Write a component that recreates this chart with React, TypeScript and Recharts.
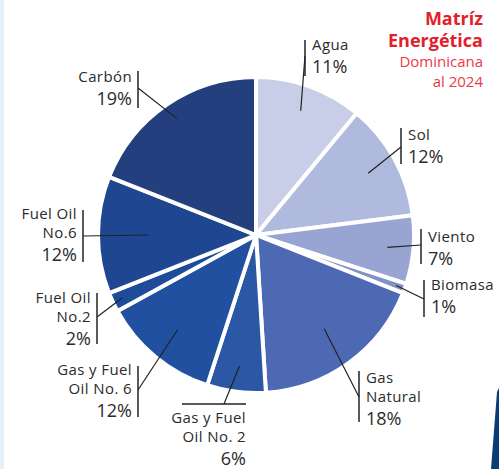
import { PieChart, Pie, Cell } from 'recharts';

// source values, clockwise from 12 o'clock
const sources = ['Agua', 'Sol', 'Viento', 'Biomasa', 'Gas Natural', 'Gas y Fuel Oil No. 2', 'Gas y Fuel Oil No. 6', 'Fuel Oil No.2', 'Fuel Oil No.6', 'Carbón'];
const shares = [11, 12, 7, 1, 18, 6, 12, 2, 12, 19];
const labelLines = [
    ['Agua'],
    ['Sol'],
    ['Viento'],
    ['Biomasa'],
    ['Gas', 'Natural'],
    ['Gas y Fuel', 'Oil No. 2'],
    ['Gas y Fuel', 'Oil No. 6'],
    ['Fuel Oil', 'No.2'],
    ['Fuel Oil', 'No.6'],
    ['Carbón'],
];
const colors = ['#C8CEE8', '#B0B9DE', '#98A4D2', '#8091C8', '#4E69B3', '#2C57A5', '#2150A0', '#1E4B9A', '#1F4690', '#233F7E'];

const data = sources.map((name, i) => ({ name, value: shares[i] }));

// label layout: leader start radius, bar position (vertical unless horiz), text side
const layout = [
    { r: 132, bx: 305, by1: 40, by2: 76, ey: 56, side: 'right', ty: 50 },
    { r: 128, bx: 401, by1: 128, by2: 164, ey: 147, side: 'right', ty: 140 },
    { r: 132, bx: 421, by1: 229, by2: 264, ey: 245, side: 'right', ty: 242 },
    { r: 149, bx: 424, by1: 280, by2: 317, ey: 299, side: 'right', ty: 290 },
    { r: 116, bx: 359, by1: 371, by2: 422, ey: 397, side: 'right', ty: 383 },
    { r: 132, bx: 224, by1: 404, by2: 404, ey: 404, side: 'below', ty: 423, hx1: 182, hx2: 246 },
    { r: 123, bx: 138, by1: 366, by2: 417, ey: 390, side: 'left', ty: 375 },
    { r: 148, bx: 97, by1: 293, by2: 344, ey: 317, side: 'left', ty: 303 },
    { r: 108, bx: 83, by1: 210, by2: 262, ey: 236, side: 'left', ty: 219 },
    { r: 141, bx: 138, by1: 71, by2: 108, ey: 88, side: 'left', ty: 82 },
];

const RAD = Math.PI / 180;
const FONT = '"Open Sans", Inter, sans-serif';

function renderLabel(props: any) {
    const { cx, cy, midAngle, index } = props;
    const l = layout[index];
    const sx = cx + Math.cos(-midAngle * RAD) * l.r;
    const sy = cy + Math.sin(-midAngle * RAD) * l.r;
    const lines = labelLines[index];
    let tx = l.bx + 7;
    let anchor = 'start';
    if (l.side === 'left') {
        tx = l.bx - 6;
        anchor = 'end';
    }
    if (l.side === 'below') {
        tx = l.hx2;
        anchor = 'end';
    }
    return (
        <g key={'lbl' + index}>
            <line x1={sx} y1={sy} x2={l.bx} y2={l.ey} stroke="#222" strokeWidth={1.2} />
            {l.side === 'below' ? (
                <line x1={l.hx1} y1={l.by1} x2={l.hx2} y2={l.by1} stroke="#222" strokeWidth={1.5} />
            ) : (
                <line x1={l.bx} y1={l.by1} x2={l.bx} y2={l.by2} stroke="#222" strokeWidth={1.5} />
            )}
            <text textAnchor={anchor} fontFamily={FONT} fill="#2b2b2b">
                {lines.map((t, j) => (
                    <tspan key={j} x={tx} y={l.ty + j * 19} fontSize={15} letterSpacing={0.4}>{t}</tspan>
                ))}
                <tspan x={tx} y={l.ty + (lines.length - 1) * 19 + 23} fontSize={18}>{shares[index]}%</tspan>
            </text>
        </g>
    );
}

export default function App() {
    return (
        <div style={{ position: 'absolute', left: 0, top: 0, width: 499, height: 469, background: '#fff', overflow: 'hidden' }}>
            <svg width={499} height={469} style={{ position: 'absolute', left: 0, top: 0 }}>
                <rect x={0} y={0} width={4} height={469} fill="#E2F1FA" />
                <polygon points="499,388 497,392 491,469 499,469" fill="#0C3C74" />
            </svg>
            <div style={{ position: 'absolute', right: 16, top: 7, textAlign: 'right', fontFamily: FONT, lineHeight: '20px' }}>
                <div style={{ color: '#E2202C', fontWeight: 700, fontSize: 18, lineHeight: '22px' }}>Matríz</div>
                <div style={{ color: '#E2202C', fontWeight: 700, fontSize: 18, lineHeight: '22px' }}>Energética</div>
                <div style={{ color: '#EC3A45', fontSize: 15 }}>Dominicana</div>
                <div style={{ color: '#EC3A45', fontSize: 15 }}>al 2024</div>
            </div>
            <div style={{ position: 'absolute', left: 0, top: 0 }}>
                <PieChart width={499} height={469} margin={{ top: 0, right: 0, bottom: 0, left: 0 }}>
                    <Pie
                        data={data}
                        dataKey="value"
                        nameKey="name"
                        cx={256}
                        cy={235}
                        outerRadius={158}
                        startAngle={90}
                        endAngle={-270}
                        stroke="#fff"
                        strokeWidth={4}
                        label={renderLabel}
                        labelLine={false}
                        isAnimationActive={false}
                    >
                        {data.map((d, i) => (
                            <Cell key={d.name} fill={colors[i]} />
                        ))}
                    </Pie>
                </PieChart>
            </div>
        </div>
    );
}
